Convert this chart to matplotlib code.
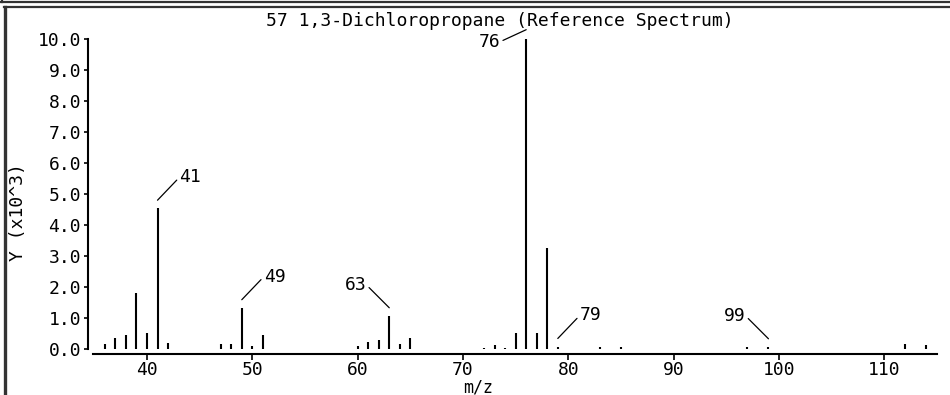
import matplotlib
matplotlib.use('Agg')
import matplotlib.pyplot as plt
from matplotlib.lines import Line2D

# m/z and intensity (x10^3)
mz = [36, 37, 38, 39, 40, 41, 42, 47, 48, 49, 50, 51,
      60, 61, 62, 63, 64, 65, 72, 73, 74, 75, 76, 77, 78, 79,
      83, 85, 97, 99, 112, 114]
intensity = [0.16, 0.35, 0.45, 1.82, 0.53, 4.54, 0.20, 0.16, 0.15, 1.33, 0.10, 0.46,
             0.10, 0.22, 0.28, 1.07, 0.16, 0.35, 0.03, 0.14, 0.04, 0.53, 10.0, 0.53, 3.25, 0.08,
             0.08, 0.05, 0.05, 0.07, 0.15, 0.12]

# labelled peaks and which side the label sits on
label_mz = [41, 49, 63, 76, 79, 99]
label_side = ['right', 'right', 'left', 'left', 'right', 'left']

title = '57 1,3-Dichloropropane (Reference Spectrum)'
xticks = [40, 50, 60, 70, 80, 90, 100, 110]
yticks = list(range(0, 11))

W, H = 950, 395
font = 'DejaVu Sans Mono'
fs = 13
plt.rcParams['font.family'] = font

fig = plt.figure(figsize=(W / 100, H / 100), dpi=100)

# frame lines (figure pixels, origin top-left)
def fline(x0, y0, x1, y1, lw=1.6, c='#333333'):
    fig.add_artist(Line2D([x0 / W, x1 / W], [1 - y0 / H, 1 - y1 / H],
                          transform=fig.transFigure, color=c, lw=lw))

fline(0, 2, W, 2)
fline(2, 0, 2, 2)
fline(4, 7, W, 7)
fline(5, 7, 5, H, lw=2.4)

ax = fig.add_axes([88 / W, (H - 354) / H, (937 - 88) / W, (354 - 39) / H])
ax.set_xlim(34.4, 115.0)
ax.set_ylim(-0.161, 10.0)

ax.vlines(mz, 0, intensity, color='black', lw=1.5)

for s in ['top', 'right']:
    ax.spines[s].set_visible(False)
ax.spines['left'].set_bounds(0, 10)
ax.spines['bottom'].set_bounds(34.9, 115.0)
for s in ['left', 'bottom']:
    ax.spines[s].set_linewidth(1.5)

ax.set_xticks(xticks)
ax.set_yticks(yticks)
ax.set_yticklabels(['%.1f' % v for v in yticks])
ax.tick_params(axis='both', direction='out', length=3, width=1.2, labelsize=fs, pad=2)
ax.tick_params(axis='x', length=4, pad=1)

fig.text(500 / W, 1 - 21 / H, title, ha='center', va='center', fontsize=fs)
fig.text(18 / W, 1 - 212 / H, 'Y (x10^3)', rotation=90, ha='center', va='center', fontsize=fs)
fig.text(478 / W, 1 - 387 / H, 'm/z', ha='center', va='center', fontsize=12)

lookup = dict(zip(mz, intensity))
for m, side in zip(label_mz, label_side):
    v = lookup[m]
    if m == 76:
        xy = (m, v + 0.3)
        off = (-26, -12)
    elif side == 'right':
        xy = (m, v + 0.26)
        off = (22, 23)
    else:
        xy = (m, v + 0.26)
        off = (-23, 23)
    ha = 'left' if off[0] > 0 else 'right'
    rel = (0, 0.5) if ha == 'left' else (1, 0.5)
    ax.annotate(str(m), xy=xy, xytext=off, textcoords='offset pixels',
                ha=ha, va='center', fontsize=fs, annotation_clip=False,
                arrowprops=dict(arrowstyle='-', color='black', lw=0.9,
                                shrinkA=0, shrinkB=0, relpos=rel))

fig.savefig('out.png', dpi=100)
